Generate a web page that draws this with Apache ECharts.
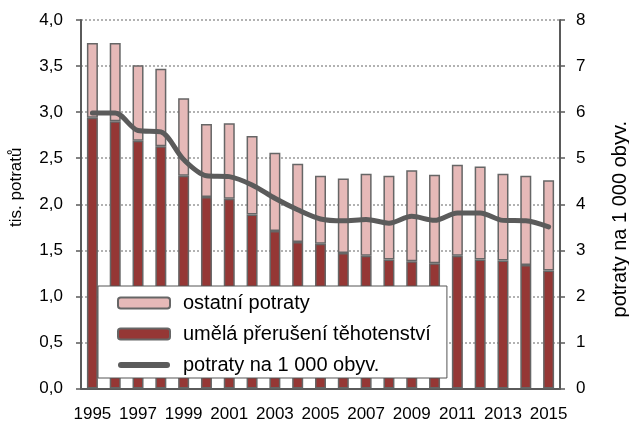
<!DOCTYPE html>
<html>
<head>
<meta charset="utf-8">
<script src="https://cdn.jsdelivr.net/npm/echarts@6/dist/echarts.min.js"></script>
<style>
  html, body { margin: 0; padding: 0; background: #fff; }
  #main { width: 629px; height: 421px; }
</style>
</head>
<body>
<div id="main"></div>
<script>
var years = ['1995', '1996', '1997', '1998', '1999', '2000', '2001', '2002', '2003', '2004',
  '2005', '2006', '2007', '2008', '2009', '2010', '2011', '2012', '2013', '2014', '2015'];

// umělá přerušení těhotenství (tis.)
var umela = [2.94, 2.90, 2.69, 2.63, 2.31, 2.08, 2.06, 1.89, 1.71, 1.59,
  1.57, 1.47, 1.44, 1.40, 1.38, 1.36, 1.44, 1.40, 1.39, 1.34, 1.28];

// ostatní potraty (tis.)
var ostatni = [0.81, 0.85, 0.82, 0.84, 0.84, 0.79, 0.82, 0.85, 0.85, 0.85,
  0.74, 0.81, 0.89, 0.91, 0.99, 0.96, 0.99, 1.01, 0.94, 0.97, 0.98];

// potraty na 1 000 obyv.
var naTisic = [5.98, 5.98, 5.60, 5.57, 4.97, 4.62, 4.60, 4.42, 4.13, 3.88,
  3.68, 3.64, 3.67, 3.59, 3.74, 3.65, 3.81, 3.81, 3.65, 3.64, 3.51];

var chartDom = document.getElementById('main');
var myChart = echarts.init(chartDom);
var font = 'Liberation Sans, Arial, sans-serif';
var axisGrey = '#5a5a5a';

var option = {
  animation: false,
  textStyle: { fontFamily: font, color: '#000' },
  grid: { left: 81, right: 69, top: 20, bottom: 32.5, outerBoundsMode: 'none' },
  legend: {
    orient: 'vertical',
    left: 98,
    top: 286,
    data: [
      'ostatní potraty',
      'umělá přerušení těhotenství',
      { name: 'potraty na 1 000 obyv.', icon: 'path://M3,0 L49,0 A3,3 0 0 1 49,6 L3,6 A3,3 0 0 1 3,0 Z' }
    ],
    itemWidth: 52,
    itemHeight: 11,
    itemGap: 11,
    padding: [7, 16, 3, 19],
    backgroundColor: '#fff',
    borderColor: '#555',
    borderWidth: 1,
    textStyle: { fontSize: 20, color: '#000', fontFamily: font, padding: [0, 0, 0, 8] }
  },
  xAxis: {
    type: 'category',
    data: years,
    axisLine: { lineStyle: { color: axisGrey, width: 2 } },
    axisTick: { interval: 0, length: 5, lineStyle: { color: axisGrey, width: 1.5 } },
    axisLabel: { interval: 1, fontSize: 17, color: '#000', margin: 17 }
  },
  yAxis: [
    {
      type: 'value',
      min: 0, max: 4, interval: 0.5,
      name: 'tis. potratů',
      nameLocation: 'middle',
      nameGap: 56,
      nameTextStyle: { fontSize: 17, color: '#000', padding: [0, 0, 0, 34] },
      axisLine: { show: true, lineStyle: { color: axisGrey, width: 2 } },
      axisTick: { show: true, length: 5, lineStyle: { color: axisGrey, width: 1.5 } },
      axisLabel: {
        fontSize: 17, color: '#000', margin: 18,
        formatter: function (v) { return v.toFixed(1).replace('.', ','); }
      },
      splitLine: { lineStyle: { color: '#999', type: [2, 2], width: 1.5 } }
    },
    {
      type: 'value',
      min: 0, max: 8, interval: 1,
      name: 'potraty na 1 000 obyv.',
      nameLocation: 'middle',
      nameRotate: 90,
      nameGap: 50,
      nameTextStyle: { fontSize: 20, color: '#000', padding: [0, 30, 0, 0] },
      axisLine: { show: true, lineStyle: { color: axisGrey, width: 2 } },
      axisTick: { show: true, length: 5, lineStyle: { color: axisGrey, width: 1.5 } },
      axisLabel: { fontSize: 17, color: '#000', margin: 16 },
      splitLine: { show: false }
    }
  ],
  series: [
    {
      name: 'umělá přerušení těhotenství',
      type: 'bar',
      stack: 'potraty',
      barWidth: 11,
      itemStyle: { color: '#953735', borderColor: '#666', borderWidth: 1.5 },
      data: umela
    },
    {
      name: 'ostatní potraty',
      type: 'bar',
      stack: 'potraty',
      barWidth: 11,
      itemStyle: { color: '#E6B9B8', borderColor: '#666', borderWidth: 1.5 },
      data: ostatni
    },
    {
      name: 'potraty na 1 000 obyv.',
      type: 'line',
      yAxisIndex: 1,
      smooth: 0.3,
      symbol: 'none',
      z: 3,
      lineStyle: { color: '#5b5b5b', width: 5, cap: 'round' },
      itemStyle: { color: '#5b5b5b' },
      data: naTisic
    }
  ]
};

option && myChart.setOption(option);
</script>
</body>
</html>
